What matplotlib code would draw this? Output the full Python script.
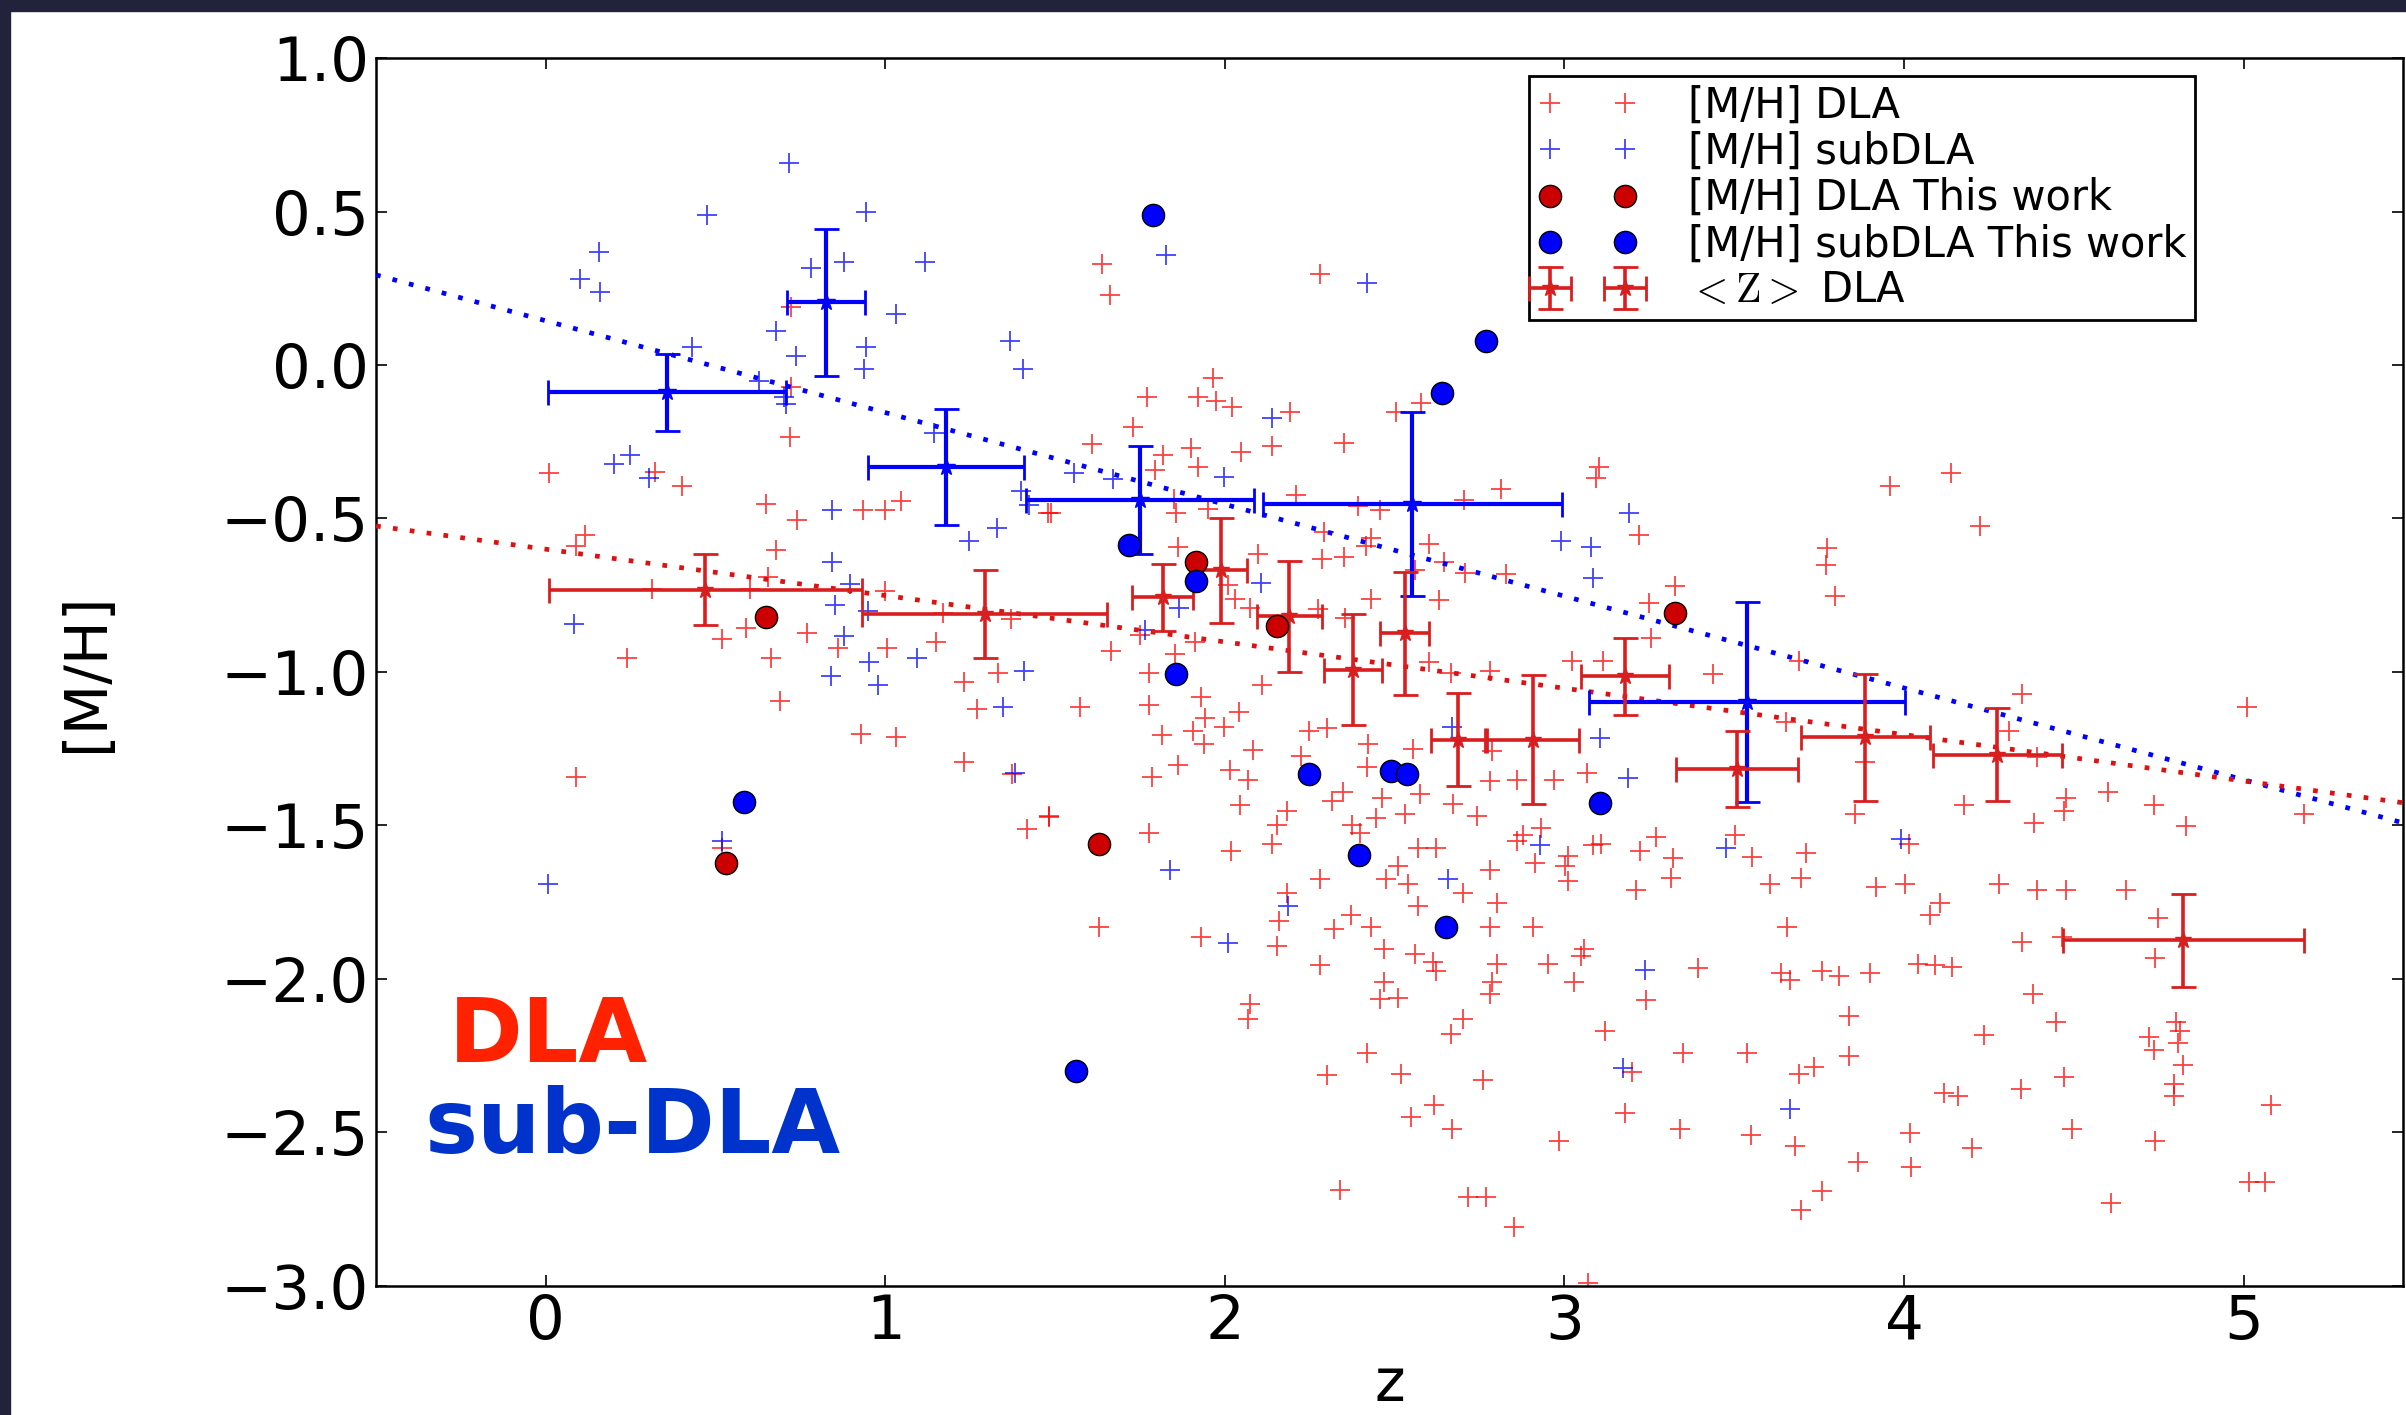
import matplotlib
matplotlib.use("Agg")
import matplotlib.pyplot as plt
import numpy as np
from matplotlib.patches import Rectangle

# literature DLA metallicities
dla_z = [0.721, 0.721, 0.718, 0.010, 0.322, 0.40, 0.649, 0.740, 0.935, 1.0, 1.045, 1.48, 0.114, 0.09,
         0.679, 0.653, 0.312, 0.601, 1.0, 1.169, 1.37, 0.591, 0.519, 0.770, 0.861, 1.006, 1.149, 0.238,
         0.662, 1.331,
         1.639, 1.661, 2.279, 1.964, 1.771, 1.921, 1.974, 2.022, 2.191, 1.73, 1.609, 1.901, 2.048, 2.139,
         2.351, 2.503, 2.578, 1.818, 1.795, 1.921, 1.487, 1.851, 1.857, 2.21, 1.951, 2.392, 2.457, 2.704,
         2.814, 3.103, 3.094, 3.219, 3.327, 3.249, 2.291, 2.431, 2.416, 2.60, 1.862, 2.097, 2.286, 2.351,
         2.561, 2.645, 2.708, 2.827, 2.63, 2.431, 2.074, 2.275, 2.353, 2.009, 2.029, 1.749, 1.853, 1.912,
         1.665, 1.775, 3.022, 3.113, 3.256, 3.438, 2.60, 2.665, 2.782,
         3.96, 4.139, 4.223, 3.773, 3.769, 3.797, 3.691,
         0.691, 1.231, 1.269, 0.929, 1.03, 1.231, 1.373, 0.088, 1.481, 1.418, 0.519,
         2.11, 1.574, 1.775, 1.929, 1.94, 2.042, 1.814, 1.905, 1.996, 1.938, 2.249, 2.301, 2.422, 2.555,
         2.084, 2.223, 2.418, 1.861, 1.786, 2.016, 2.068, 2.788, 2.782, 2.86, 2.97, 3.065, 2.347, 2.314,
         2.464, 2.574, 2.671, 2.743, 2.045, 2.184, 2.152, 2.373, 2.399, 2.444, 2.531, 1.483, 1.775, 2.019,
         2.139, 2.568, 2.623, 2.879, 2.86, 2.931, 3.009, 2.912, 3.003, 3.084, 3.109, 3.223, 3.269, 3.32,
         3.314, 3.21, 3.009, 2.782, 2.801, 2.509, 2.474, 2.54, 2.701, 2.279, 2.182, 2.158, 2.57, 2.37,
         2.321, 2.431, 2.782, 2.908, 1.629, 1.929, 2.152, 2.47, 2.561, 2.613, 2.623, 2.279, 2.801, 2.951,
         3.058, 3.048, 3.392, 3.24, 2.47, 2.788, 2.782, 3.029, 2.457, 2.509, 2.074, 2.068, 2.701, 2.665,
         3.119, 2.418, 3.349, 2.301, 2.518, 2.76, 3.2, 2.617, 2.548, 2.669, 3.178, 3.34, 2.983, 2.34,
         2.717, 2.769, 2.851, 3.07,
         4.347, 5.009, 3.652, 4.308, 4.392, 3.886, 4.178, 4.477, 4.47, 4.60, 4.736, 4.83, 5.178, 4.383,
         3.857, 3.503, 4.016, 3.551, 3.71, 3.697, 3.606, 3.918, 4.003, 4.279, 4.392, 4.477, 4.655, 4.106,
         4.078, 4.747, 3.655, 4.347, 4.464, 4.74, 3.639, 3.665, 3.76, 3.808, 3.899, 4.042, 4.09, 4.142,
         4.379, 3.838, 4.448, 4.236, 4.801, 4.814, 4.723, 4.736, 4.807, 4.821, 4.795, 4.795, 3.539, 3.838,
         3.736, 3.691, 4.119, 4.158, 4.344, 4.47, 5.081, 3.548, 3.678, 4.019, 4.201, 4.496, 4.74, 3.864,
         4.022, 3.76, 3.697, 4.61, 5.016, 5.064]
dla_mh = [0.188, -0.073, -0.233, -0.353, -0.349, -0.393, -0.452, -0.505, -0.473, -0.473, -0.443, -0.483,
          -0.553, -0.589, -0.603, -0.689, -0.729, -0.729, -0.736, -0.809, -0.829, -0.856, -0.893, -0.873,
          -0.923, -0.923, -0.903, -0.956, -0.956, -1.003,
          0.328, 0.228, 0.297, -0.043, -0.105, -0.105, -0.116, -0.136, -0.152, -0.203, -0.256, -0.269,
          -0.285, -0.263, -0.253, -0.152, -0.123, -0.293, -0.343, -0.332, -0.483, -0.436, -0.483, -0.423,
          -0.469, -0.46, -0.473, -0.44, -0.403, -0.332, -0.369, -0.553, -0.719, -0.776, -0.543, -0.563,
          -0.589, -0.583, -0.593, -0.616, -0.633, -0.625, -0.669, -0.643, -0.676, -0.68, -0.767, -0.763,
          -0.793, -0.796, -0.823, -0.716, -0.763, -0.879, -0.943, -0.903, -0.933, -1.003, -0.963, -0.963,
          -0.889, -1.005, -0.969, -1.003, -0.996,
          -0.393, -0.353, -0.523, -0.596, -0.652, -0.753, -0.965,
          -1.093, -1.033, -1.122, -1.202, -1.213, -1.293, -1.332, -1.343, -1.469, -1.512, -1.574,
          -1.043, -1.113, -1.106, -1.082, -1.15, -1.13, -1.206, -1.193, -1.18, -1.233, -1.193, -1.184,
          -1.233, -1.25, -1.255, -1.275, -1.309, -1.303, -1.343, -1.319, -1.352, -1.259, -1.356, -1.352,
          -1.352, -1.33, -1.392, -1.419, -1.412, -1.399, -1.43, -1.469, -1.432, -1.452, -1.499, -1.499,
          -1.525, -1.476, -1.463, -1.472, -1.523, -1.582, -1.561, -1.574, -1.574, -1.532, -1.552, -1.508,
          -1.598, -1.621, -1.632, -1.565, -1.559, -1.582, -1.539, -1.605, -1.672, -1.711, -1.681, -1.645,
          -1.751, -1.632, -1.674, -1.691, -1.721, -1.674, -1.721, -1.811, -1.762, -1.791, -1.838, -1.831,
          -1.831, -1.831, -1.831, -1.862, -1.891, -1.902, -1.918, -1.944, -1.973, -1.955, -1.951, -1.951,
          -1.904, -1.924, -1.964, -2.07, -2.011, -2.011, -2.05, -2.011, -2.064, -2.061, -2.08, -2.13,
          -2.13, -2.18, -2.17, -2.241, -2.241, -2.314, -2.31, -2.33, -2.303, -2.41, -2.45, -2.489, -2.436,
          -2.489, -2.527, -2.689, -2.709, -2.709, -2.809, -2.99,
          -1.073, -1.113, -1.162, -1.193, -1.277, -1.293, -1.432, -1.412, -1.452, -1.392, -1.432, -1.503,
          -1.463, -1.492, -1.463, -1.532, -1.561, -1.602, -1.59, -1.672, -1.691, -1.702, -1.691, -1.691,
          -1.711, -1.711, -1.711, -1.754, -1.791, -1.802, -1.831, -1.88, -1.864, -1.931, -1.981, -2.004,
          -1.973, -1.991, -1.981, -1.951, -1.955, -1.96, -2.05, -2.121, -2.14, -2.181, -2.14, -2.17, -2.19,
          -2.23, -2.21, -2.281, -2.343, -2.38, -2.241, -2.25, -2.286, -2.31, -2.37, -2.38, -2.36, -2.32,
          -2.41, -2.509, -2.543, -2.503, -2.549, -2.489, -2.529, -2.596, -2.612, -2.691, -2.753, -2.731,
          -2.66, -2.66]

# literature subDLA metallicities
sub_z = [0.717, 0.474, 0.942, 0.156, 0.101, 0.160, 0.782, 0.879, 1.117, 1.032, 0.679, 0.738, 0.942,
         0.938, 0.431, 1.366, 1.406, 0.627, 0.701, 0.708, 1.143, 0.249, 0.201, 0.303, 0.844, 1.40,
         1.422, 1.329, 1.247, 0.842, 0.896, 0.851, 0.084, 0.948, 0.877, 0.952, 1.094, 1.409,
         1.827, 2.418, 2.139, 1.996, 1.555, 1.671, 3.191, 2.99, 3.078, 3.083, 2.106, 1.866, 1.765,
         0.84, 0.977, 1.347, 1.383, 0.519, 0.006,
         2.669, 3.106, 3.188, 2.929, 3.477, 1.838, 2.656, 2.187, 2.009, 3.236, 3.171,
         3.992, 3.665]
sub_mh = [0.657, 0.487, 0.50, 0.368, 0.28, 0.237, 0.317, 0.337, 0.337, 0.167, 0.111, 0.028, 0.06,
          -0.012, 0.06, 0.077, -0.012, -0.052, -0.103, -0.127, -0.22, -0.292, -0.323, -0.369, -0.473,
          -0.409, -0.456, -0.532, -0.572, -0.643, -0.713, -0.783, -0.843, -0.80, -0.883, -0.969,
          -0.956, -0.996,
          0.357, 0.268, -0.173, -0.365, -0.352, -0.372, -0.483, -0.573, -0.593, -0.693, -0.709, -0.793,
          -0.863,
          -1.013, -1.043, -1.113, -1.33, -1.552, -1.691,
          -1.18, -1.215, -1.346, -1.565, -1.572, -1.645, -1.674, -1.762, -1.882, -1.971, -2.29,
          -1.543, -2.423]

# this work
dla_tw_z = [0.647, 1.914, 2.152, 3.327, 1.629, 0.53]
dla_tw_mh = [-0.821, -0.643, -0.849, -0.809, -1.561, -1.621]
sub_tw_z = [1.788, 2.769, 2.639, 1.719, 1.914, 1.857, 2.249, 2.49, 2.535, 3.106, 2.396, 2.652,
            1.561, 0.584]
sub_tw_mh = [0.489, 0.077, -0.092, -0.587, -0.703, -1.005, -1.332, -1.322, -1.332, -1.428, -1.596,
             -1.831, -2.30, -1.423]

# binned means
bin_dla_z = [0.47, 1.292, 1.817, 1.988, 2.19, 2.377, 2.53, 2.686, 2.907, 3.178, 3.509, 3.886, 4.275, 4.823]
bin_dla_mh = [-0.732, -0.812, -0.757, -0.669, -0.819, -0.992, -0.874, -1.22, -1.22, -1.014, -1.316,
              -1.213, -1.269, -1.874]
bin_dla_xerr = [0.46, 0.36, 0.09, 0.076, 0.095, 0.085, 0.072, 0.08, 0.135, 0.13, 0.18, 0.19, 0.19, 0.354]
bin_dla_yerr = [0.115, 0.143, 0.11, 0.17, 0.18, 0.18, 0.2, 0.15, 0.21, 0.125, 0.125, 0.206, 0.152, 0.151]

bin_sub_z = [0.357, 0.825, 1.179, 1.749, 2.552, 3.538]
bin_sub_mh = [-0.089, 0.204, -0.332, -0.44, -0.453, -1.097]
bin_sub_xerr = [0.35, 0.115, 0.23, 0.336, 0.44, 0.465]
bin_sub_yerr = [0.125, 0.24, 0.19, 0.177, 0.30, 0.325]

# linear fits: intercept, slope
fit_dla = [-0.600, -0.151]
fit_sub = [0.144, -0.299]

XLIM = [-0.5, 5.47]
YLIM = [-3.0, 1.0]


def minus_fmt(v, pos):
    return ('%.1f' % v).replace('-', '\u2212')


def config_plot():
    plt.rcParams['font.family'] = ['DejaVu Sans']
    plt.rcParams['mathtext.fontset'] = 'cm'
    fig = plt.figure(figsize=(24.06, 14.15), dpi=100, facecolor='white')
    ax = fig.add_axes([0.1563, 0.0912, 0.8425, 0.8678])
    ax.set_xlim(XLIM)
    ax.set_ylim(YLIM)
    ax.set_xticks(range(0, 6))
    ax.set_yticks(np.arange(-3.0, 1.01, 0.5))
    ax.yaxis.set_major_formatter(matplotlib.ticker.FuncFormatter(minus_fmt))
    ax.tick_params(direction='in', top=True, right=True, length=8, width=1.2, labelsize=44)
    ax.tick_params(axis='y', pad=5)
    ax.tick_params(axis='x', pad=5)
    for s in ax.spines.values():
        s.set_linewidth(1.8)
    # dark frame of the screenshot
    fig.add_artist(Rectangle((0, 1 - 11 / 1415), 1, 11 / 1415, transform=fig.transFigure,
                             color='#22223c', zorder=10))
    fig.add_artist(Rectangle((0, 0), 10 / 2406, 1, transform=fig.transFigure,
                             color='#22223c', zorder=10))
    return fig, ax


def plot(ax):
    ax.plot(dla_z, dla_mh, '+', color='r', ms=14, mew=1.3, alpha=0.75, label='[M/H] DLA', zorder=2)
    ax.plot(sub_z, sub_mh, '+', color='b', ms=14, mew=1.3, alpha=0.75, label='[M/H] subDLA', zorder=2)

    xs = np.array(XLIM)
    ax.plot(xs, fit_sub[0] + fit_sub[1] * xs, color='b', lw=3.4, dashes=(1, 2.6), zorder=3)
    ax.plot(xs, fit_dla[0] + fit_dla[1] * xs, color='#dd1111', lw=3.4, dashes=(1, 2.6), zorder=3)

    ax.errorbar(bin_sub_z, bin_sub_mh, xerr=bin_sub_xerr, yerr=bin_sub_yerr, fmt='*', color='b',
                ms=13, lw=3, capsize=9, capthick=2, zorder=4)
    ax.errorbar(bin_dla_z, bin_dla_mh, xerr=bin_dla_xerr, yerr=bin_dla_yerr, fmt='*', color='#d81e1e',
                ms=12, lw=2.6, capsize=9, capthick=2, zorder=4, label=r'$<\mathrm{Z}>$ DLA')

    ax.plot(dla_tw_z, dla_tw_mh, 'o', mfc='#cc0000', mec='k', ms=16, mew=1,
            label='[M/H] DLA This work', zorder=5)
    ax.plot(sub_tw_z, sub_tw_mh, 'o', mfc='#0000ff', mec='k', ms=16, mew=1,
            label='[M/H] subDLA This work', zorder=5)

    ax.text(-0.285, -2.27, 'DLA', color='#ff2200', fontsize=64, fontweight='bold', va='baseline')
    ax.text(-0.357, -2.565, 'sub-DLA', color='#0033cc', fontsize=64, fontweight='bold', va='baseline')


def add_labels(ax):
    ax.set_xlabel('z', fontsize=42, labelpad=3)
    ax.set_ylabel('[M/H]', fontsize=42)
    ax.yaxis.set_label_coords(-0.129, 0.5)
    h, l = ax.get_legend_handles_labels()
    order = ['[M/H] DLA', '[M/H] subDLA', '[M/H] DLA This work', '[M/H] subDLA This work',
             r'$<\mathrm{Z}>$ DLA']
    hd = dict(zip(l, h))
    leg = ax.legend([hd[k] for k in order], order, loc='upper left', bbox_to_anchor=(0.569, 0.985),
                    borderaxespad=0, numpoints=2, fontsize=30, labelspacing=0.1, handlelength=2.4,
                    handletextpad=1.2, borderpad=0.2, fancybox=False, edgecolor='k', framealpha=1)
    leg.get_frame().set_linewidth(2)


def main():
    fig, ax = config_plot()
    plot(ax)
    add_labels(ax)
    fig.savefig('out.png', dpi=100)


main()
